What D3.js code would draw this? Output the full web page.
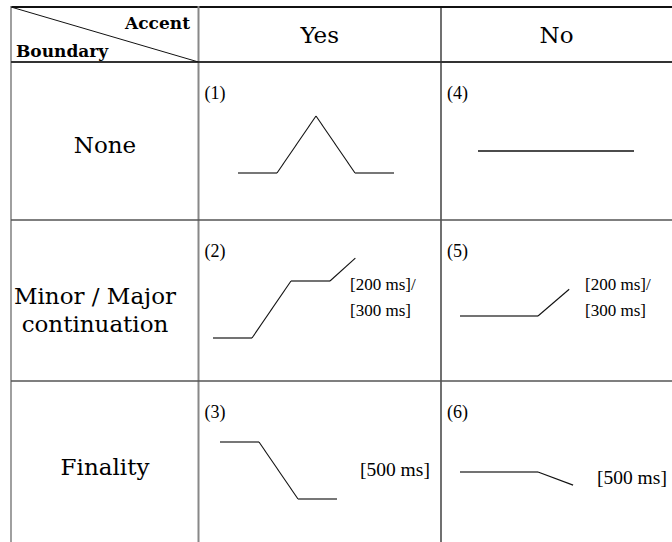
<!DOCTYPE html>
<html><head><meta charset="utf-8">
<script src="https://d3js.org/d3.v7.min.js"></script>
<style>html,body{margin:0;padding:0;background:#fff;overflow:hidden}</style>
</head><body>
<script>
// ---- data ----
const columns = ["Yes", "No"];
const rowLabels = [["None"], ["Minor / Major", "continuation"], ["Finality"]];
const cornerLabels = ["Accent", "Boundary"];
const cellNumbers = [["(1)", "(4)"], ["(2)", "(5)"], ["(3)", "(6)"]];
// contour: time steps and pitch levels
const contourTimes = [
  [[0, 1, 2, 3, 4], [0, 4]],
  [[0, 1, 2, 3, 3.65], [0, 2, 2.8]],
  [[0, 1, 2, 3], [0, 2, 2.9]]
];
const contourPitch = [
  [[0, 0, 1, 0, 0], [0, 0]],
  [[0, 0, 1, 1, 1.4], [0, 0, 0.47]],
  [[1, 1, 0, 0], [0, 0, -0.23]]
];
const durationNotes = [
  [[], []],
  [["[200 ms]/", "[300 ms]"], ["[200 ms]/", "[300 ms]"]],
  [["[500 ms]"], ["[500 ms]"]]
];

// ---- layout ----
const W = 672, H = 542;
const svg = d3.select("body").append("svg").attr("width", W).attr("height", H);
const serif = "'DejaVu Serif', serif";
const times = "'Liberation Serif', 'Times New Roman', serif";

const xEdges = [11, 198.5, 441, 672];
const yEdges = [7, 62, 220, 381, 542];

// table lines
svg.append("line").attr("x1", 11).attr("x2", W).attr("y1", 7).attr("y2", 7)
  .attr("stroke", "#111").attr("stroke-width", 2);
svg.append("line").attr("x1", 11).attr("x2", 11).attr("y1", 6).attr("y2", H)
  .attr("stroke", "#888").attr("stroke-width", 1.6);
svg.append("line").attr("x1", 198.5).attr("x2", 198.5).attr("y1", 6).attr("y2", H)
  .attr("stroke", "#888").attr("stroke-width", 2);
svg.append("line").attr("x1", 441).attr("x2", 441).attr("y1", 6).attr("y2", H)
  .attr("stroke", "#111").attr("stroke-width", 1.2);
svg.append("line").attr("x1", 11).attr("x2", W).attr("y1", 62).attr("y2", 62)
  .attr("stroke", "#333").attr("stroke-width", 2);
[220, 381].forEach(y => svg.append("line").attr("x1", 11).attr("x2", W).attr("y1", y).attr("y2", y)
  .attr("stroke", "#555").attr("stroke-width", 1.6));
svg.append("line").attr("x1", 11).attr("y1", 7).attr("x2", 198.5).attr("y2", 62)
  .attr("stroke", "#111").attr("stroke-width", 1);

// corner header
svg.append("text").attr("x", 190).attr("y", 29).attr("text-anchor", "end")
  .attr("font-family", serif).attr("font-weight", "bold").attr("font-size", 17)
  .text(cornerLabels[0]);
svg.append("text").attr("x", 16).attr("y", 57)
  .attr("font-family", serif).attr("font-weight", "bold").attr("font-size", 17)
  .text(cornerLabels[1]);

// column headers
columns.forEach((c, i) => {
  svg.append("text").attr("x", (xEdges[i + 1] + xEdges[i + 2]) / 2).attr("y", 43)
    .attr("text-anchor", "middle").attr("font-family", serif).attr("font-size", 23)
    .text(c);
});

// row labels
const rowBase = [[153], [304, 332], [475]];
const rowCenter = [105, 95, 105];
rowLabels.forEach((lines, r) => {
  lines.forEach((t, k) => {
    svg.append("text").attr("x", rowCenter[r]).attr("y", rowBase[r][k])
      .attr("text-anchor", "middle").attr("font-family", serif).attr("font-size", 23)
      .text(t);
  });
});

// cell origins (left start of contour and pitch level 0) relative to cell
const originOffsets = [
  [[39.5, 111], [37, 89]],
  [[14.5, 118], [19, 96]],
  [[21.5, 118], [19, 91]]
];
const notePos = [
  [[0, 0], [0, 0], 17],
  [[151.5, 70], [144, 70], 17],
  [[161.5, 95], [156, 103], 19.5]
];

for (let r = 0; r < 3; r++) {
  for (let c = 0; c < 2; c++) {
    const cx = xEdges[c + 1], cy = yEdges[r + 1];
    const g = svg.append("g");
    g.append("text").attr("x", cx + 6).attr("y", cy + 37)
      .attr("font-family", times).attr("font-size", 18).text(cellNumbers[r][c]);
    const ox = cx + originOffsets[r][c][0], oy = cy + originOffsets[r][c][1];
    const xs = d3.scaleLinear().domain([0, 1]).range([ox, ox + 39]);
    const ys = d3.scaleLinear().domain([0, 1]).range([oy, oy - 57]);
    const T = contourTimes[r][c], P = contourPitch[r][c];
    for (let i = 0; i < T.length - 1; i++) {
      const flat = P[i] === P[i + 1];
      g.append("path")
        .attr("d", d3.line()([[xs(T[i]), ys(P[i])], [xs(T[i + 1]), ys(P[i + 1])]]))
        .attr("fill", "none")
        .attr("stroke", flat ? (r === 0 && c === 1 ? "#111" : (c === 0 && r !== 1 ? "#777" : "#444")) : "#111")
        .attr("stroke-width", flat ? (c === 0 && r !== 1 ? 2.2 : 1.4) : 1.1);
    }
    durationNotes[r][c].forEach((t, k) => {
      g.append("text").attr("x", cx + notePos[r][c][0]).attr("y", cy + notePos[r][c][1] + k * 26)
        .attr("font-family", times).attr("font-size", notePos[r][2]).text(t);
    });
  }
}
</script>
</body></html>
